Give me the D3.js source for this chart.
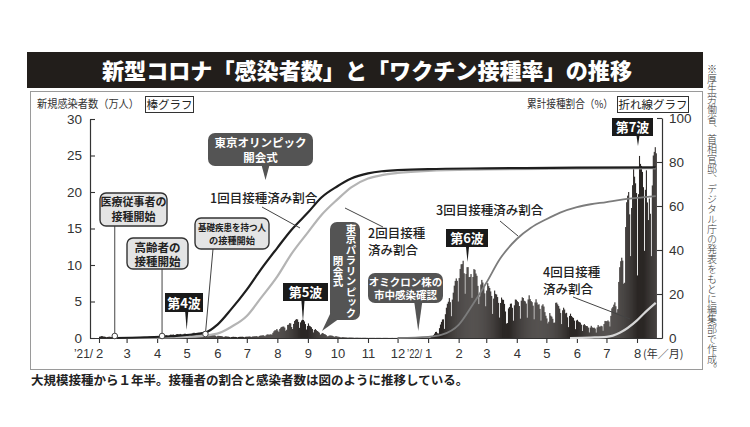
<!DOCTYPE html>
<html><head><meta charset="utf-8">
<script src="https://cdn.jsdelivr.net/npm/d3@7"></script>
<style>body{margin:0;background:#fff}svg{display:block}</style>
</head><body>
<svg id="c" width="750" height="427"></svg>
<script>
// ---------------- DATA ----------------
const titleText = "新型コロナ「感染者数」と「ワクチン接種率」の推移";
const captionText = "大規模接種から１年半。接種者の割合と感染者数は図のように推移している。";
const sourceText = "※厚生労働省、首相官邸、デジタル庁の発表をもとに編集部で作成。";
const leftAxisTitle = "新規感染者数（万人）";
const leftAxisTag = "棒グラフ";
const rightAxisTitle = "累計接種割合（%）";
const rightAxisTag = "折れ線グラフ";

const leftTicks = [0, 5, 10, 15, 20, 25, 30];
const rightTicks = [0, 20, 40, 60, 80, 100];
const monthTicks = ["2021-02-01","2021-03-01","2021-04-01","2021-05-01","2021-06-01","2021-07-01","2021-08-01","2021-09-01","2021-10-01","2021-11-01","2021-12-01","2022-01-01","2022-02-01","2022-03-01","2022-04-01","2022-05-01","2022-06-01","2022-07-01","2022-08-01"];
const monthLabels = ["2","3","4","5","6","7","8","9","10","11","12","1","2","3","4","5","6","7","8"];

// daily new cases (万人), one row per week (Mon..Sun), from 2021-02-01
const casesStart = "2021-02-01";
const dailyCases = [
0.18,0.21,0.26,0.25,0.20,0.19,0.16,
0.11,0.14,0.16,0.18,0.16,0.14,0.12,
0.09,0.13,0.15,0.14,0.12,0.11,0.10,
0.07,0.09,0.11,0.12,0.11,0.10,0.10,
0.07,0.12,0.13,0.12,0.12,0.11,0.10,
0.06,0.13,0.13,0.13,0.13,0.14,0.12,
0.08,0.15,0.15,0.16,0.16,0.15,0.13,
0.08,0.17,0.19,0.20,0.21,0.20,0.18,
0.12,0.21,0.26,0.26,0.26,0.25,0.22,
0.15,0.27,0.30,0.35,0.35,0.37,0.30,
0.22,0.34,0.46,0.45,0.45,0.48,0.40,
0.29,0.51,0.54,0.51,0.51,0.56,0.46,
0.31,0.46,0.58,0.59,0.48,0.44,0.38,
0.30,0.30,0.44,0.60,0.70,0.72,0.59,
0.40,0.61,0.70,0.70,0.67,0.64,0.54,
0.31,0.52,0.57,0.54,0.52,0.50,0.40,
0.27,0.36,0.44,0.40,0.38,0.37,0.29,
0.18,0.30,0.29,0.28,0.27,0.25,0.21,
0.13,0.18,0.23,0.21,0.19,0.18,0.14,
0.09,0.14,0.16,0.17,0.15,0.15,0.13,
0.08,0.14,0.16,0.17,0.17,0.18,0.15,
0.10,0.16,0.18,0.18,0.19,0.21,0.19,
0.13,0.20,0.21,0.23,0.23,0.26,0.22,
0.15,0.27,0.32,0.34,0.34,0.39,0.31,
0.24,0.38,0.48,0.50,0.43,0.50,0.49,
0.46,0.71,0.92,1.06,1.06,1.23,1.02,
0.83,1.24,1.42,1.52,1.56,1.57,1.42,
0.99,1.13,1.79,1.83,2.04,2.00,1.50,
1.23,1.93,2.34,2.50,2.59,2.54,2.20,
1.39,2.14,2.40,2.50,2.47,2.27,1.91,
1.16,1.64,2.00,1.68,1.60,1.48,1.24,
0.76,1.10,1.23,1.08,0.96,0.86,0.74,
0.44,0.54,0.69,0.64,0.54,0.50,0.40,
0.22,0.25,0.32,0.35,0.33,0.32,0.27,
0.15,0.21,0.26,0.21,0.18,0.16,0.13,
0.06,0.10,0.13,0.10,0.09,0.08,0.07,
0.04,0.06,0.07,0.06,0.06,0.05,0.04,
0.02,0.04,0.04,0.04,0.03,0.03,0.03,
0.02,0.03,0.03,0.03,0.03,0.02,0.02,
0.01,0.02,0.02,0.02,0.02,0.02,0.02,
0.01,0.02,0.02,0.02,0.02,0.02,0.01,
0.01,0.02,0.02,0.02,0.02,0.02,0.01,
0.01,0.01,0.01,0.02,0.01,0.01,0.01,
0.01,0.01,0.01,0.01,0.01,0.01,0.01,
0.01,0.01,0.02,0.01,0.01,0.01,0.01,
0.01,0.01,0.02,0.02,0.02,0.02,0.01,
0.01,0.02,0.02,0.02,0.02,0.03,0.03,
0.02,0.03,0.04,0.05,0.05,0.05,0.04,
0.08,0.16,0.26,0.42,0.60,0.83,0.85,
0.65,0.62,1.35,1.84,2.21,2.54,2.56,
1.25,3.26,4.15,4.69,4.97,5.47,4.91,
2.99,5.26,6.21,7.17,7.82,8.16,7.83,
5.00,8.21,9.46,10.10,10.13,10.58,8.87,
6.06,8.78,9.70,9.71,8.34,8.36,8.76,
5.50,8.36,9.44,9.34,8.83,8.52,7.14,
4.65,5.70,7.33,7.96,7.60,7.00,6.12,
4.35,6.50,7.51,7.11,6.85,6.38,5.76,
3.30,5.40,6.50,6.04,5.96,5.61,4.81,
2.80,4.80,5.54,5.27,5.22,4.67,3.63,
1.98,2.05,4.05,4.24,4.69,4.72,4.14,
2.37,4.48,5.27,5.24,5.05,4.91,4.38,
2.65,5.11,5.58,5.48,5.10,5.01,4.72,
2.78,5.28,5.85,5.33,5.06,4.91,4.43,
2.56,4.87,5.31,4.86,4.55,4.62,3.99,
2.39,4.44,4.62,4.31,3.55,3.05,2.68,
2.00,2.23,3.42,3.06,2.92,2.63,2.09,
2.11,4.82,4.85,4.61,4.38,4.02,3.43,
1.91,3.80,4.15,3.90,3.38,3.45,2.83,
1.49,3.03,3.33,3.01,2.85,2.75,2.38,
1.21,2.40,2.49,2.27,2.18,2.11,1.83,
0.96,1.77,1.91,1.74,1.64,1.62,1.43,
0.76,1.42,1.67,1.46,1.38,1.42,1.29,
0.74,1.45,1.77,1.56,1.56,1.67,1.60,
0.99,1.91,2.34,2.31,2.30,2.41,2.25,
1.58,3.03,4.06,4.26,4.57,4.89,4.35,
3.49,3.95,7.68,9.70,10.52,11.00,10.60,
7.44,7.57,15.20,18.60,19.50,20.00,16.94,
11.22,17.81,20.93,23.30,22.10,21.19,19.86,
8.57,19.70,24.94,23.85,23.57,22.75,20.66,
11.94,20.30,22.97,18.57,16.16,19.11,17.02,
11.22,20.90,25.00,25.50,26.14,25.30
];

// cumulative vaccination rate (%)
const dose1 = [["2021-02-17",0],["2021-04-15",0.8],["2021-05-20",2.5],["2021-06-01",6],["2021-06-15",13],["2021-07-01",22],["2021-07-15",31],["2021-08-01",41],["2021-08-15",49],["2021-09-01",57],["2021-09-15",64],["2021-10-01",69],["2021-10-15",72.5],["2021-11-01",74.8],["2021-11-15",75.8],["2021-12-01",76.3],["2022-01-01",76.8],["2022-03-01",77.1],["2022-06-01",77.4],["2022-08-20",77.6]];
const dose2 = [["2021-02-17",0],["2021-05-01",0.5],["2021-06-01",2],["2021-06-15",5],["2021-07-01",10],["2021-07-15",18],["2021-08-01",28],["2021-08-15",38],["2021-09-01",48],["2021-09-15",56],["2021-10-01",63],["2021-10-15",68.5],["2021-11-01",72.5],["2021-11-15",74],["2021-12-01",75],["2022-01-01",76],["2022-03-01",76.6],["2022-06-01",77],["2022-08-20",77.2]];
const dose3 = [["2021-12-01",0],["2022-01-01",0.5],["2022-01-15",1.5],["2022-02-01",6],["2022-02-15",15],["2022-03-01",25],["2022-03-15",36],["2022-04-01",45],["2022-04-15",50],["2022-05-01",54],["2022-05-15",57],["2022-06-01",59.5],["2022-06-15",60.8],["2022-07-01",61.8],["2022-07-15",62.8],["2022-08-01",63.7],["2022-08-20",64.5]];
const dose4 = [["2022-05-25",0],["2022-06-15",0.2],["2022-07-01",0.5],["2022-07-15",2.5],["2022-08-01",8],["2022-08-10",12],["2022-08-20",16]];

// event dates
const evHealth = "2021-02-17", evElderly = "2021-04-06", evRisk = "2021-05-20";
const evOlympic = "2021-07-20", evPara = "2021-09-20", evOmicron = "2021-12-22";
const wave4 = "2021-05-01", wave5 = "2021-08-27", wave6 = "2022-02-10", wave7 = "2022-08-02";

// ---------------- DRAW ----------------
const svg = d3.select("#c");
const JP = "'Noto Sans CJK JP','Noto Sans',sans-serif";
const NUM = "'Liberation Sans','Noto Sans CJK JP',sans-serif";
const P = d3.timeParse("%Y-%m-%d");

const x0 = d3.scaleTime().domain([P("2021-02-01"), P("2022-08-01")]).range([99, 637]);
const x = d3.scaleTime().domain([x0.invert(90), x0.invert(662)]).range([90, 662]);
const yL = d3.scaleLinear().domain([0, 30]).range([338, 119]);
const yR = d3.scaleLinear().domain([0, 100]).range([338, 118]);

// title bar
svg.append("rect").attr("x", 27).attr("y", 52).attr("width", 676).attr("height", 36).attr("fill", "#221e1b");
svg.append("text").attr("x", 367).attr("y", 79).attr("text-anchor", "middle")
  .attr("font-family", JP).attr("font-weight", 900).attr("font-size", 22).attr("fill", "#fff")
  .attr("textLength", 530).attr("lengthAdjust", "spacingAndGlyphs").text(titleText);
// frame
svg.append("rect").attr("x", 30.5).attr("y", 91.5).attr("width", 672).attr("height", 278)
  .attr("fill", "none").attr("stroke", "#9a9a9a").attr("stroke-width", 1);
// vertical source note
svg.append("text").attr("x", 712).attr("y", 64)
  .attr("style", "writing-mode: vertical-rl")
  .attr("font-family", JP).attr("font-weight", 300).attr("font-size", 10).attr("fill", "#333")
  .text(sourceText);
// caption
svg.append("text").attr("x", 31).attr("y", 385).attr("font-family", JP).attr("font-weight", 700)
  .attr("font-size", 12.5).attr("fill", "#222").text(captionText);

// axis titles
svg.append("text").attr("x", 37).attr("y", 108).attr("font-family", JP).attr("font-size", 11).attr("fill", "#333")
  .attr("textLength", 102).attr("lengthAdjust", "spacingAndGlyphs").text(leftAxisTitle);
svg.append("rect").attr("x", 145.5).attr("y", 96.5).attr("width", 48).attr("height", 16).attr("fill", "#fff").attr("stroke", "#333");
svg.append("text").attr("x", 169.5).attr("y", 108.5).attr("text-anchor", "middle").attr("font-family", JP).attr("font-size", 11.5).attr("fill", "#222").text(leftAxisTag);
svg.append("text").attr("x", 527).attr("y", 108).attr("font-family", JP).attr("font-size", 11).attr("fill", "#333")
  .attr("textLength", 86).attr("lengthAdjust", "spacingAndGlyphs").text(rightAxisTitle);
svg.append("rect").attr("x", 617.5).attr("y", 96.5).attr("width", 71).attr("height", 16).attr("fill", "#fff").attr("stroke", "#333");
svg.append("text").attr("x", 653).attr("y", 108.5).attr("text-anchor", "middle").attr("font-family", JP).attr("font-size", 11.5).attr("fill", "#222").text(rightAxisTag);

// bars
const start = P(casesStart);
const dayW = x(d3.timeDay.offset(start, 1)) - x(start);
svg.append("g").selectAll("rect").data(dailyCases).join("rect")
  .attr("x", (d, i) => x(d3.timeDay.offset(start, i)))
  .attr("y", d => yL(d))
  .attr("width", dayW + 0.1)
  .attr("height", d => yL(0) - yL(d))
  .attr("fill", "#2b2725");

// axes
function styleAxis(g) {
  g.selectAll("path.domain").attr("stroke", "#333").attr("stroke-width", 1.2);
  g.selectAll(".tick line").attr("stroke", "#333").attr("stroke-width", 1.1);
  g.selectAll(".tick text").attr("fill", "#333").attr("font-family", NUM).attr("font-size", 13.5);
}
svg.append("g").attr("transform", "translate(90,0)")
  .call(d3.axisLeft(yL).tickValues(leftTicks).tickSizeInner(-5).tickSizeOuter(0).tickPadding(8))
  .call(styleAxis);
svg.append("g").attr("transform", "translate(662,0)")
  .call(d3.axisRight(yR).tickValues(rightTicks).tickSizeInner(-5).tickSizeOuter(0).tickPadding(7))
  .call(styleAxis);
const xa = svg.append("g").attr("transform", "translate(0,338)")
  .call(d3.axisBottom(x).tickValues(monthTicks.map(P)).tickFormat((d, i) => monthLabels[i]).tickSizeInner(5).tickSizeOuter(0).tickPadding(6))
  .call(styleAxis);
xa.selectAll(".tick text").attr("font-size", 13);
svg.append("text").attr("x", x(P(monthTicks[0])) - 6).attr("y", 358).attr("text-anchor", "end")
  .attr("font-family", NUM).attr("font-size", 12).attr("fill", "#333")
  .attr("textLength", 19).attr("lengthAdjust", "spacingAndGlyphs").text("’21/");
svg.append("text").attr("x", x(P(monthTicks[11])) - 6).attr("y", 358).attr("text-anchor", "end")
  .attr("font-family", NUM).attr("font-size", 12).attr("fill", "#333")
  .attr("textLength", 15).attr("lengthAdjust", "spacingAndGlyphs").text("’22/");
svg.append("text").attr("x", x(P(monthTicks[18])) + 6).attr("y", 358)
  .attr("font-family", JP).attr("font-size", 11).attr("fill", "#333").text("(年／月)");

// lines
const line = d3.line().x(d => x(P(d[0]))).y(d => yR(d[1])).curve(d3.curveMonotoneX);
svg.append("path").datum(dose4).attr("d", line).attr("fill", "none").attr("stroke", "#d6d6d6").attr("stroke-width", 2.2);
svg.append("path").datum(dose3).attr("d", line).attr("fill", "none").attr("stroke", "#7c7c7c").attr("stroke-width", 1.8);
svg.append("path").datum(dose2).attr("d", line).attr("fill", "none").attr("stroke", "#b4b4b4").attr("stroke-width", 2.2);
svg.append("path").datum(dose1).attr("d", line).attr("fill", "none").attr("stroke", "#1e1e1e").attr("stroke-width", 2.2);

// helpers
function leader(x1, y1, x2, y2) {
  svg.append("line").attr("x1", x1).attr("y1", y1).attr("x2", x2).attr("y2", y2).attr("stroke", "#444").attr("stroke-width", 1);
}
function textLines(cx, ys, lines, size, fill, weight, anchor) {
  lines.forEach((t, i) => svg.append("text").attr("x", cx).attr("y", ys[i]).attr("text-anchor", anchor || "middle")
    .attr("font-family", JP).attr("font-weight", weight).attr("font-size", size).attr("fill", fill).text(t));
}
function grayBox(bx, by, bw, bh, lines, ys, size, tl) {
  svg.append("rect").attr("x", bx).attr("y", by).attr("width", bw).attr("height", bh).attr("rx", 6)
    .attr("fill", "#e4e4e4").attr("stroke", "#333").attr("stroke-width", 1.4);
  lines.forEach((t, i) => {
    const tx = svg.append("text").attr("x", bx + bw / 2).attr("y", ys[i]).attr("text-anchor", "middle")
      .attr("font-family", JP).attr("font-weight", 700).attr("font-size", size).attr("fill", "#222").text(t);
    if (tl) tx.attr("textLength", tl[i]).attr("lengthAdjust", "spacingAndGlyphs");
  });
}
function marker(cx, cy) {
  svg.append("circle").attr("cx", cx).attr("cy", cy).attr("r", 2.8).attr("fill", "#fff").attr("stroke", "#444").attr("stroke-width", 1);
}
function wedge(x1, x2, y, tx, ty, fill) {
  svg.append("path").attr("d", `M${x1},${y}L${x2},${y}L${tx},${ty}Z`).attr("fill", fill);
}
function waveLabel(bx, by, bw, bh, t, tx, ty) {
  wedge(tx - 1.6, tx + 1.6, by + bh - 1, tx, ty, "#1a1a1a");
  svg.append("rect").attr("x", bx).attr("y", by).attr("width", bw).attr("height", bh).attr("fill", "#1a1a1a");
  svg.append("text").attr("x", bx + bw / 2).attr("y", by + bh - 4).attr("text-anchor", "middle")
    .attr("font-family", JP).attr("font-weight", 700).attr("font-size", 13).attr("fill", "#fff").text(t);
}
function darkBox(bx, by, bw, bh, lines, ys, size) {
  svg.append("rect").attr("x", bx).attr("y", by).attr("width", bw).attr("height", bh).attr("rx", 7).attr("fill", "#545454");
  textLines(bx + bw / 2, ys, lines, size, "#fff", 700);
}

// gray callouts with markers
const hx = x(P(evHealth)), ex = x(P(evElderly)), rx = x(P(evRisk));
leader(hx, 226, hx, 336); marker(hx, 336);
grayBox(100, 193, 67, 33, ["医療従事者の", "接種開始"], [206, 221], 11);
leader(ex, 269, ex, 336); marker(ex, 336);
grayBox(127, 238, 61, 31, ["高齢者の", "接種開始"], [251.5, 265.5], 11.5);
leader(213, 249, rx, 334); marker(rx, 334);
grayBox(195, 218, 74, 31, ["基礎疾患を持つ人", "の接種開始"], [231, 244], 9.5, [68, 46]);

// dark callouts
const ox = x(P(evOlympic));
wedge(ox - 4, ox + 4, 165, ox, 180, "#545454");
darkBox(208, 133, 105, 33, ["東京オリンピック", "開会式"], [147, 161.5], 11.5);
svg.append("path").attr("d", `M331,312L340,318L322,331Z`).attr("fill", "#545454");
svg.append("rect").attr("x", 330).attr("y", 222).attr("width", 30).attr("height", 98).attr("rx", 7).attr("fill", "#545454");
svg.append("text").attr("x", 351).attr("y", 271).attr("text-anchor", "middle").attr("style", "writing-mode: vertical-rl")
  .attr("font-family", JP).attr("font-weight", 700).attr("font-size", 10.5).attr("fill", "#fff").text("東京パラリンピック");
svg.append("text").attr("x", 338).attr("y", 272).attr("text-anchor", "middle").attr("style", "writing-mode: vertical-rl")
  .attr("font-family", JP).attr("font-weight", 700).attr("font-size", 10.5).attr("fill", "#fff").text("閉会式");
const mx = x(P(evOmicron));
wedge(mx - 4, mx + 4, 302, mx, 331, "#545454");
darkBox(368, 273, 75, 30, ["オミクロン株の", "市中感染確認"], [285.5, 299], 10.5);

// wave labels
waveLabel(165, 293, 38, 19, "第4波", x(P(wave4)), 330);
waveLabel(283, 283, 45, 18, "第5波", x(P(wave5)), 322);
waveLabel(446, 229, 42, 18, "第6波", x(P(wave6)), 262);
waveLabel(612, 118, 41, 18, "第7波", x(P(wave7)), 146);

// line labels
textLines(210, [203], ["1回目接種済み割合"], 12.5, "#222", 500, "start");
leader(262, 207, 300, 228);
textLines(368, [238, 255], ["2回目接種", "済み割合"], 12.5, "#222", 500, "start");
leader(345, 208, 383, 227);
textLines(436, [215], ["3回目接種済み割合"], 12.5, "#222", 500, "start");
leader(500, 221, 518, 236);
textLines(543, [277, 294], ["4回目接種", "済み割合"], 12.5, "#222", 500, "start");
leader(573, 297, 630, 319);
</script>
</body></html>
